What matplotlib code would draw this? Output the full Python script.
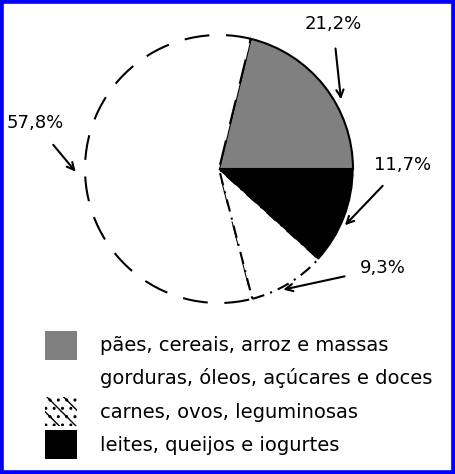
import matplotlib
matplotlib.use("Agg")
import matplotlib.pyplot as plt
from matplotlib.patches import Patch, Rectangle

categories = ["pães, cereais, arroz e massas",
              "gorduras, óleos, açúcares e doces",
              "carnes, ovos, leguminosas",
              "leites, queijos e iogurtes"]
values = [21.2, 57.8, 9.3, 11.7]
pct_labels = ["21,2%", "57,8%", "9,3%", "11,7%"]

W, H = 455, 474
fig = plt.figure(figsize=(W / 100, H / 100), dpi=100)
fig.patch.set_facecolor("white")

# blue frame
fig.patches.append(Rectangle((0, 0), 1, 1, transform=fig.transFigure,
                             fill=False, edgecolor="#0000ff", linewidth=5.5))

cx, cy, r = 219, 169, 134
ax = fig.add_axes([(cx - r) / W, (H - cy - r) / H, 2 * r / W, 2 * r / H])

wedges, _ = ax.pie(values, startangle=0, counterclock=True, radius=1,
                   colors=["#808080", "white", "white", "black"])
ax.set_xlim(-1, 1)
ax.set_ylim(-1, 1)
ax.set_aspect("equal")
ax.axis("off")

wedges[0].set_edgecolor("black"); wedges[0].set_linewidth(1.5)
wedges[1].set_edgecolor("black"); wedges[1].set_linewidth(1.5)
wedges[1].set_linestyle((0, (12, 8)))
wedges[2].set_edgecolor("black"); wedges[2].set_linewidth(1.5)
wedges[2].set_linestyle((0, (6, 3, 1, 3)))
wedges[3].set_edgecolor("black"); wedges[3].set_linewidth(1)

fs = 13
ann = [
    (pct_labels[0], (0.85, 1.08), (0.91, 0.52)),
    (pct_labels[1], (-1.37, 0.34), (-1.07, -0.02)),
    (pct_labels[2], (1.22, -0.74), (0.48, -0.90)),
    (pct_labels[3], (1.37, 0.03), (0.94, -0.42)),
]
for txt, tpos, tip in ann:
    ax.annotate(txt, xy=tip, xytext=tpos, fontsize=fs, ha="center", va="center",
                annotation_clip=False,
                arrowprops=dict(arrowstyle="->", color="black", lw=1.5,
                                shrinkA=9, shrinkB=0))

lfs = 14
handles = [Patch(facecolor="#808080", edgecolor="none"),
           Patch(facecolor="white", edgecolor="none"),
           Patch(facecolor="white", edgecolor="black", linewidth=0, hatch="\\\\.."),
           Patch(facecolor="black", edgecolor="none")]
fig.legend(handles, categories, loc="upper left",
           bbox_to_anchor=(37 / W, 1 - 323 / H), frameon=False,
           fontsize=lfs, handlelength=1.65, handleheight=1.9,
           labelspacing=0.22, handletextpad=1.2, borderaxespad=0)

fig.savefig("out.png", dpi=100, facecolor="white")
